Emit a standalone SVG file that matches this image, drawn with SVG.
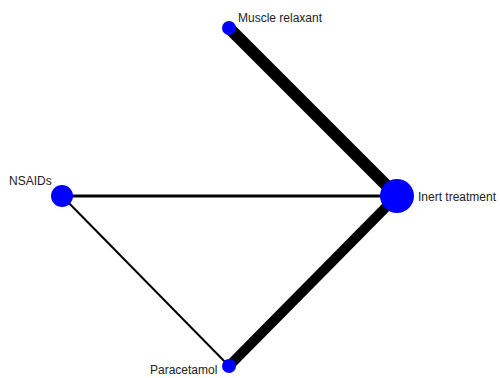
<svg xmlns="http://www.w3.org/2000/svg" width="500" height="378" viewBox="0 0 500 378">
<style>
.lbl{font-family:"Liberation Sans",Arial,sans-serif;font-size:12px;fill:#222}
.node{fill:#0000ff}
.edge{stroke:#000;stroke-linecap:butt;fill:none}
</style>
<rect width="500" height="378" fill="#fff"/>
<g id="connectors">
<line class="edge" x1="229" y1="28" x2="397" y2="196" stroke-width="12"/>
<line class="edge" x1="62" y1="196" x2="397" y2="196" stroke-width="3"/>
<line class="edge" x1="62" y1="196" x2="229" y2="366" stroke-width="2"/>
<line class="edge" x1="229" y1="366" x2="397" y2="196" stroke-width="10"/>
</g>
<g id="muscle-relaxant">
<circle class="node" cx="229" cy="28" r="7"/>
<text class="lbl" x="238" y="22">Muscle relaxant</text>
</g>
<g id="nsaids">
<circle class="node" cx="62" cy="196" r="11"/>
<text class="lbl" x="9" y="185">NSAIDs</text>
</g>
<g id="inert-treatment">
<circle class="node" cx="397" cy="196" r="17"/>
<text class="lbl" x="418" y="201">Inert treatment</text>
</g>
<g id="paracetamol">
<circle class="node" cx="229" cy="366" r="7"/>
<text class="lbl" x="150" y="374">Paracetamol</text>
</g>
</svg>
